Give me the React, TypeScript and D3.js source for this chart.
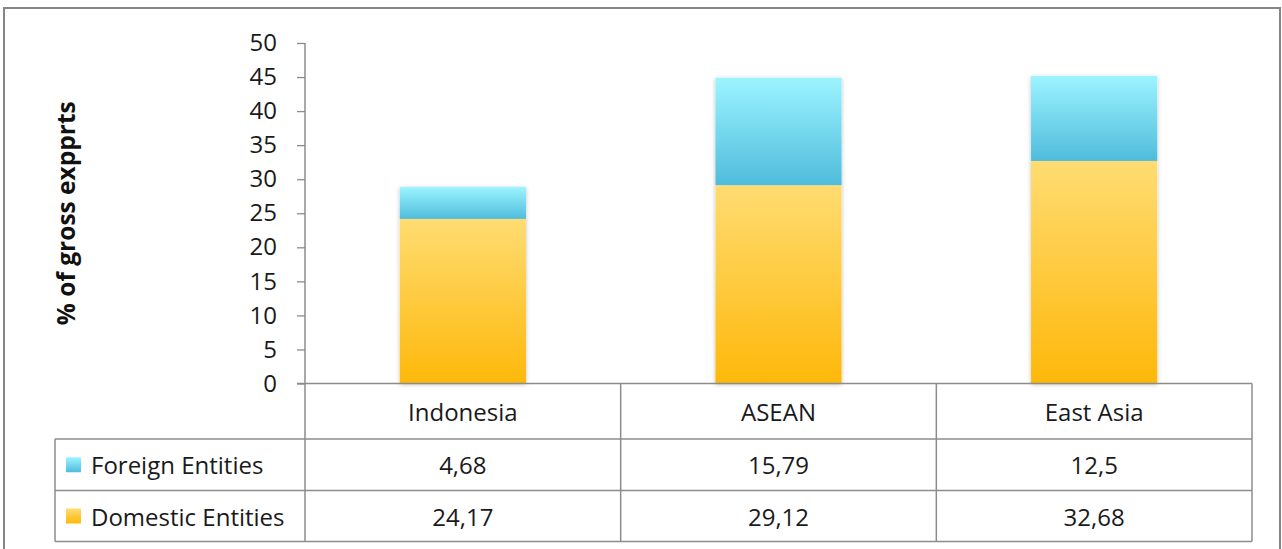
import React, { useEffect, useRef } from 'react';
import * as d3 from 'd3';

const categories = ['Indonesia', 'ASEAN', 'East Asia'];
const seriesNames = ['Foreign Entities', 'Domestic Entities'];
const domesticValues = [24.17, 29.12, 32.68];
const foreignValues = [4.68, 15.79, 12.5];
const foreignLabels = ['4,68', '15,79', '12,5'];
const domesticLabels = ['24,17', '29,12', '32,68'];
const yTicks = [0, 5, 10, 15, 20, 25, 30, 35, 40, 45, 50];

const App = () => {
  const svgRef = useRef(null);

  useEffect(() => {
    const W = 1282;
    const H = 549;
    const font = '"Open Sans", Lato, sans-serif';
    const fontSize = '24px';
    const gridColor = '#8c8c8c';

    const svg = d3.select(svgRef.current).attr('width', W).attr('height', H);
    svg.selectAll('*').remove();

    const defs = svg.append('defs');
    const gradBlue = defs.append('linearGradient').attr('id', 'gBlue')
      .attr('x1', 0).attr('y1', 0).attr('x2', 0).attr('y2', 1);
    gradBlue.append('stop').attr('offset', '0%').attr('stop-color', '#9cf4ff');
    gradBlue.append('stop').attr('offset', '100%').attr('stop-color', '#4fbcdc');
    const gradGold = defs.append('linearGradient').attr('id', 'gGold')
      .attr('x1', 0).attr('y1', 0).attr('x2', 0).attr('y2', 1);
    gradGold.append('stop').attr('offset', '0%').attr('stop-color', '#ffdc72');
    gradGold.append('stop').attr('offset', '100%').attr('stop-color', '#feb80a');
    const shadow = defs.append('filter').attr('id', 'shadow')
      .attr('x', '-20%').attr('y', '-20%').attr('width', '140%').attr('height', '140%');
    shadow.append('feDropShadow').attr('dx', 0).attr('dy', 1).attr('stdDeviation', 2)
      .attr('flood-color', '#000').attr('flood-opacity', 0.25);

    // outer frame
    svg.append('rect')
      .attr('x', 4).attr('y', 8).attr('width', 1276).attr('height', 560)
      .attr('fill', '#fff').attr('stroke', '#868686').attr('stroke-width', 2);

    const plotTop = 43;
    const plotBottom = 383.5;
    const xLeft = 305;
    const xRight = 1252;
    const rowY = [383.5, 439, 490.5, 541.5];
    const legendLeft = 55;

    const x = d3.scaleBand().domain(categories).range([xLeft, xRight]).padding(0);
    const y = d3.scaleLinear().domain([0, 50]).range([plotBottom, plotTop]);

    // y axis
    const yAxis = d3.axisLeft(y).tickValues(yTicks).tickSize(8).tickPadding(20);
    const gy = svg.append('g').attr('transform', `translate(${xLeft},0)`).call(yAxis);
    gy.select('.domain').remove();
    gy.selectAll('line').attr('stroke', gridColor).attr('stroke-width', 1.3);
    gy.selectAll('text')
      .style('font-family', font).style('font-size', fontSize).attr('fill', '#1a1a1a');

    // y axis title
    svg.append('text')
      .attr('transform', `translate(65,${(plotTop + plotBottom) / 2}) rotate(-90)`)
      .attr('text-anchor', 'middle').attr('dominant-baseline', 'central')
      .style('font-family', font).style('font-size', '24.5px').style('font-weight', 'bold')
      .attr('fill', '#111')
      .text('% of gross expprts');

    // stacked bars
    const barW = x.bandwidth() * 0.4;
    const bars = svg.append('g');
    categories.forEach((c, i) => {
      const bx = x(c) + (x.bandwidth() - barW) / 2;
      const total = domesticValues[i] + foreignValues[i];
      bars.append('rect')
        .attr('x', bx).attr('y', y(total)).attr('width', barW)
        .attr('height', y(0) - y(total)).attr('fill', '#fff').attr('filter', 'url(#shadow)');
      bars.append('rect')
        .attr('x', bx).attr('y', y(domesticValues[i])).attr('width', barW)
        .attr('height', y(0) - y(domesticValues[i])).attr('fill', 'url(#gGold)');
      bars.append('rect')
        .attr('x', bx).attr('y', y(total)).attr('width', barW)
        .attr('height', y(domesticValues[i]) - y(total)).attr('fill', 'url(#gBlue)');
    });

    // data table lines
    const lines = svg.append('g').attr('stroke', gridColor).attr('stroke-width', 1.5);
    lines.append('line').attr('x1', xLeft).attr('x2', xLeft).attr('y1', plotTop).attr('y2', rowY[3]);
    lines.append('line').attr('x1', xLeft - 8).attr('x2', xRight).attr('y1', rowY[0]).attr('y2', rowY[0]);
    [1, 2, 3].forEach(r => {
      lines.append('line').attr('x1', legendLeft).attr('x2', xRight).attr('y1', rowY[r]).attr('y2', rowY[r]);
    });
    lines.append('line').attr('x1', legendLeft).attr('x2', legendLeft).attr('y1', rowY[1]).attr('y2', rowY[3]);
    categories.forEach(c => {
      const xe = x(c) + x.bandwidth();
      lines.append('line').attr('x1', xe).attr('x2', xe).attr('y1', rowY[0]).attr('y2', rowY[3]);
    });

    const cellText = (tx, ty, txt, anchor) => svg.append('text')
      .attr('x', tx).attr('y', ty).attr('text-anchor', anchor).attr('dominant-baseline', 'central')
      .style('font-family', font).style('font-size', fontSize).attr('fill', '#1a1a1a').text(txt);

    categories.forEach((c, i) => {
      const cx = x(c) + x.bandwidth() / 2;
      cellText(cx, (rowY[0] + rowY[1]) / 2, c, 'middle');
      cellText(cx, (rowY[1] + rowY[2]) / 2, foreignLabels[i], 'middle');
      cellText(cx, (rowY[2] + rowY[3]) / 2, domesticLabels[i], 'middle');
    });

    // legend keys
    const fills = ['url(#gBlue)', 'url(#gGold)'];
    seriesNames.forEach((s, i) => {
      const cy = (rowY[i + 1] + rowY[i + 2]) / 2;
      svg.append('rect').attr('x', 66).attr('y', cy - 7.5).attr('width', 15).attr('height', 15)
        .attr('fill', fills[i]);
      cellText(91, cy, s, 'start');
    });
  }, []);

  return (
    <svg ref={svgRef} style={{ position: 'absolute', left: 0, top: 0 }}></svg>
  );
};

export default App;
